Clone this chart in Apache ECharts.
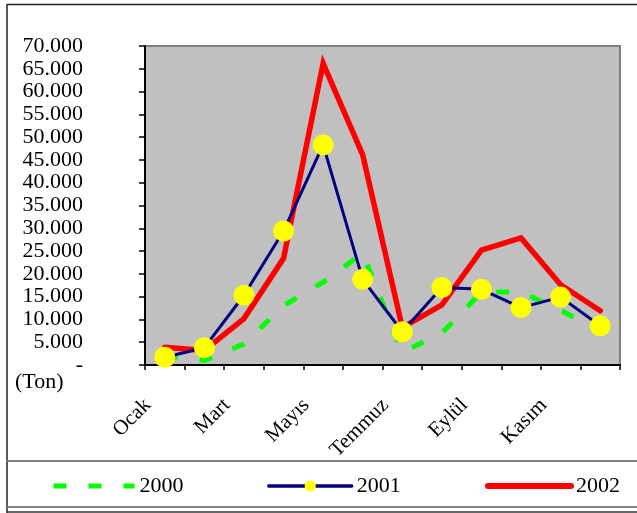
<!DOCTYPE html>
<html>
<head>
<meta charset="utf-8">
<script src="https://cdn.jsdelivr.net/npm/echarts@6/dist/echarts.min.js"></script>
<style>
html,body{margin:0;padding:0;background:#fff;}
#chart{width:637px;height:513px;}
</style>
</head>
<body>
<div id="chart"></div>
<script>
var months = ['Ocak','Şubat','Mart','Nisan','Mayıs','Haziran','Temmuz','Ağustos','Eylül','Ekim','Kasım','Aralık'];
var seriesNames = ['2000','2001','2002'];
var values2000 = [2000, 1000, 4600, 13000, 18200, 24500, 2800, 7000, 16000, 16000, 12000, 7500];
var values2001 = [1700, 3800, 15300, 29400, 48300, 18800, 7300, 17000, 16600, 12600, 14900, 8600];
var values2002 = [3900, 3200, 10200, 23400, 66200, 46100, 8200, 13200, 25200, 27900, 17600, 11900];
var yMax = 70000;
var yStep = 5000;
var unitLabel = '(Ton)';

var FONT = '"Liberation Serif", "Times New Roman", serif';
var chart = echarts.init(document.getElementById('chart'), null, {renderer: 'canvas'});

function fmt(v) {
  if (v === 0) return '-';
  return (v / 1000).toFixed(3);
}

var legendText = {fontFamily: FONT, fontSize: 22, color: '#000'};

var option = {
  animation: false,
  backgroundColor: '#fff',
  grid: {
    left: 145, top: 46, right: 17, bottom: 148,
    show: true, backgroundColor: '#C0C0C0', borderColor: '#808080', borderWidth: 2
  },
  legend: [
    {data: [{name: seriesNames[0], itemStyle: {opacity: 0}}], left: 51, top: 475, itemWidth: 81, itemHeight: 14,
     lineStyle: {width: 5, color: '#00FF00', type: [13, 22], cap: 'butt'}, textStyle: legendText, padding: 0},
    {data: [seriesNames[1]], left: 267, top: 475, itemWidth: 83, itemHeight: 14,
     lineStyle: {width: 3.5, color: '#000080', cap: 'round'}, textStyle: legendText, padding: 0},
    {data: [{name: seriesNames[2], itemStyle: {opacity: 0}}], left: 485, top: 475, itemWidth: 83, itemHeight: 14,
     lineStyle: {width: 6, color: '#FF0000', cap: 'round'}, textStyle: legendText, padding: 0}
  ],
  xAxis: {
    type: 'category',
    data: months,
    boundaryGap: true,
    axisLine: {lineStyle: {color: '#000', width: 2}},
    axisTick: {show: true, interval: 0, length: 5, lineStyle: {color: '#000', width: 1.5}},
    axisLabel: {
      interval: 1, rotate: 45, margin: 20, padding: [0, 24, 0, 0],
      fontFamily: FONT, fontSize: 21, color: '#000'
    },
    splitLine: {show: false}
  },
  yAxis: {
    type: 'value',
    min: 0, max: yMax, interval: yStep,
    axisLine: {show: true, lineStyle: {color: '#000', width: 2}},
    axisTick: {show: true, length: 6, lineStyle: {color: '#000', width: 1.5}},
    axisLabel: {margin: 62, fontFamily: FONT, fontSize: 22, color: '#000', formatter: fmt},
    splitLine: {show: false}
  },
  series: [
    {
      name: seriesNames[0], type: 'line', data: values2000, symbol: 'none', z: 2,
      lineStyle: {color: '#00FF00', width: 5, type: [13, 22], cap: 'butt'},
      itemStyle: {color: '#00FF00'}
    },
    {
      name: seriesNames[2], type: 'line', data: values2002, symbol: 'none', z: 3,
      lineStyle: {color: '#FF0000', width: 5.5, cap: 'round', join: 'miter'},
      itemStyle: {color: '#FF0000'}
    },
    {
      name: seriesNames[1], type: 'line', data: values2001, symbol: 'circle', symbolSize: 21, z: 4,
      showAllSymbol: true,
      lineStyle: {color: '#000080', width: 3},
      itemStyle: {color: '#FFFF00', borderWidth: 0}
    }
  ],
  graphic: [
    {type: 'text', left: 15, top: 371, style: {text: unitLabel, font: '22px ' + FONT, fill: '#000'}},
    {type: 'line', shape: {x1: 7, y1: 4.5, x2: 637, y2: 4.5}, style: {stroke: '#222', lineWidth: 1.5}},
    {type: 'line', shape: {x1: 7, y1: 4, x2: 7, y2: 513}, style: {stroke: '#222', lineWidth: 1.5}},
    {type: 'line', shape: {x1: 7, y1: 461, x2: 637, y2: 461}, style: {stroke: '#808080', lineWidth: 2}},
    {type: 'line', shape: {x1: 7, y1: 507, x2: 637, y2: 507}, style: {stroke: '#808080', lineWidth: 2}},
    {type: 'line', shape: {x1: 7, y1: 512, x2: 637, y2: 512}, style: {stroke: '#333', lineWidth: 1.5}}
  ]
};
chart.setOption(option);
</script>
</body>
</html>
